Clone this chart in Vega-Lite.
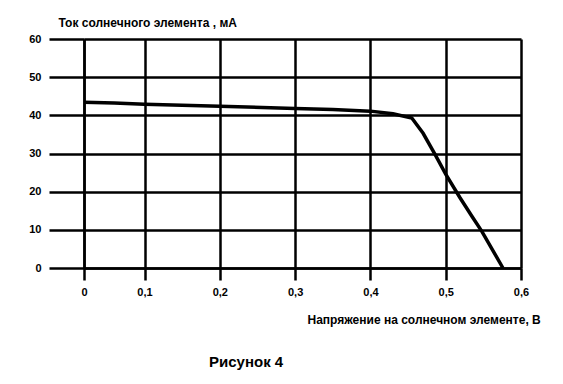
{
  "$schema": "https://vega.github.io/schema/vega-lite/v6.json",
  "width": 437,
  "height": 229,
  "autosize": {"type": "none"},
  "padding": {"left": 84, "top": 39, "right": 42, "bottom": 116},
  "background": "white",
  "config": {"view": {"stroke": null}, "font": "Liberation Sans"},
  "title": {
    "text": "Рисунок 4",
    "orient": "bottom",
    "anchor": "start",
    "frame": "group",
    "dx": 125,
    "offset": 30,
    "fontSize": 15,
    "fontWeight": "bold",
    "font": "Liberation Sans",
    "color": "black"
  },
  "data": {
    "values": [
      {"U": 0, "I": 43.4},
      {"U": 0.05, "I": 43.2},
      {"U": 0.1, "I": 42.9},
      {"U": 0.2, "I": 42.4},
      {"U": 0.3, "I": 41.8},
      {"U": 0.35, "I": 41.5},
      {"U": 0.4, "I": 41.1},
      {"U": 0.43, "I": 40.4},
      {"U": 0.455, "I": 39.3},
      {"U": 0.47, "I": 35.3},
      {"U": 0.486, "I": 29.7},
      {"U": 0.5, "I": 24.6},
      {"U": 0.519, "I": 18.4},
      {"U": 0.535, "I": 13.5},
      {"U": 0.548, "I": 9.6},
      {"U": 0.576, "I": 0}
    ]
  },
  "mark": {"type": "line", "color": "black", "strokeWidth": 3.5},
  "encoding": {
    "x": {
      "field": "U",
      "type": "quantitative",
      "scale": {"domain": [0, 0.1, 0.6], "range": [0, 60.5, 437], "nice": false, "zero": false},
      "axis": {
        "values": [0, 0.1, 0.2, 0.3, 0.4, 0.5, 0.6],
        "labelExpr": "replace(format(datum.value, '.1~f'), '.', ',')",
        "grid": true,
        "gridColor": "black",
        "gridWidth": 2.5,
        "gridOpacity": 1,
        "domainColor": "black",
        "domainWidth": 2.5,
        "tickColor": "black",
        "tickWidth": 2.5,
        "tickSize": 12,
        "labelFont": "Liberation Sans",
        "labelFontWeight": "bold",
        "labelFontSize": 11,
        "labelColor": "black",
        "labelPadding": 6,
        "labelFlush": false,
        "title": "Напряжение на солнечном элементе, В",
        "titleFont": "Liberation Sans",
        "titleFontSize": 12,
        "titleFontWeight": "bold",
        "titleColor": "black",
        "titleX": 223,
        "titleY": 55,
        "titleAlign": "left",
        "titleBaseline": "alphabetic",
        "titleAnchor": null
      }
    },
    "y": {
      "field": "I",
      "type": "quantitative",
      "scale": {"domain": [0, 60], "nice": false},
      "axis": {
        "values": [0, 10, 20, 30, 40, 50, 60],
        "grid": true,
        "gridColor": "black",
        "gridWidth": 2.5,
        "gridOpacity": 1,
        "domainColor": "black",
        "domainWidth": 2.5,
        "tickColor": "black",
        "tickWidth": 2.5,
        "tickSize": 35,
        "labelFont": "Liberation Sans",
        "labelFontWeight": "bold",
        "labelFontSize": 11,
        "labelColor": "black",
        "labelPadding": 8,
        "labelFlush": false,
        "title": "Ток солнечного элемента , мА",
        "titleFont": "Liberation Sans",
        "titleFontSize": 12,
        "titleFontWeight": "bold",
        "titleColor": "black",
        "titleAngle": 0,
        "titleX": -26,
        "titleY": -13,
        "titleAlign": "left",
        "titleBaseline": "alphabetic",
        "titleAnchor": null
      }
    }
  }
}
